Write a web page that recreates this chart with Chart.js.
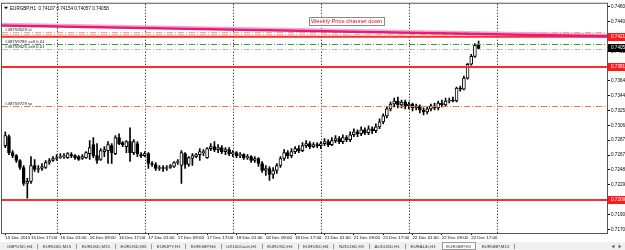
<!DOCTYPE html>
<html>
<head>
<meta charset="utf-8">
<script src="https://cdn.jsdelivr.net/npm/chart.js@4.4.0/dist/chart.umd.min.js"></script>
<style>
  html, body { margin: 0; padding: 0; background: #fff; }
</style>
</head>
<body>
<canvas id="chart" width="625" height="250"></canvas>
<script>
// EURGBP H1 candles, 15 Dec 10:00 -> 22 Dec 19:00
const open = [
  0.72798, 0.72914, 0.72708, 0.72669, 0.72605, 0.72515, 0.72309, 0.72335, 0.72540, 0.72489,
  0.72502, 0.72515, 0.72579, 0.72605, 0.72631, 0.72643, 0.72656, 0.72643, 0.72682, 0.72669,
  0.72656, 0.72631, 0.72643, 0.72695, 0.72811, 0.72669, 0.72618, 0.72721, 0.72734, 0.72798,
  0.72695, 0.72901, 0.72837, 0.72785, 0.72849, 0.72708, 0.72824, 0.72682, 0.72669, 0.72695,
  0.72566, 0.72553, 0.72502, 0.72515, 0.72502, 0.72515, 0.72528, 0.72579, 0.72540, 0.72695,
  0.72553, 0.72631, 0.72656, 0.72682, 0.72708, 0.72643, 0.72759, 0.72785, 0.72746, 0.72772,
  0.72721, 0.72746, 0.72695, 0.72708, 0.72669, 0.72682, 0.72643, 0.72656, 0.72605, 0.72631,
  0.72566, 0.72476, 0.72502, 0.72425, 0.72476, 0.72540, 0.72631, 0.72708, 0.72669, 0.72721,
  0.72759, 0.72734, 0.72798, 0.72824, 0.72785, 0.72811, 0.72798, 0.72824, 0.72849, 0.72811,
  0.72862, 0.72888, 0.72849, 0.72901, 0.72875, 0.72939, 0.72978, 0.72952, 0.73004, 0.72965,
  0.73017, 0.72991, 0.73042, 0.73107, 0.73184, 0.73274, 0.73338, 0.73377, 0.73326, 0.73364,
  0.73313, 0.73338, 0.73287, 0.73313, 0.73261, 0.73235, 0.73274, 0.73313, 0.73287, 0.73351,
  0.73326, 0.73377, 0.73390, 0.73377, 0.73544, 0.73531, 0.73673, 0.73853, 0.73956, 0.74107
];
const high = [
  0.72978, 0.72939, 0.72734, 0.72682, 0.72618, 0.72540, 0.72373, 0.72656, 0.72618, 0.72540,
  0.72566, 0.72605, 0.72631, 0.72656, 0.72682, 0.72695, 0.72695, 0.72708, 0.72708, 0.72682,
  0.72669, 0.72682, 0.72721, 0.72862, 0.72901, 0.72824, 0.72759, 0.72785, 0.72849, 0.72824,
  0.72927, 0.72952, 0.72849, 0.72862, 0.73030, 0.72875, 0.72849, 0.72708, 0.72721, 0.72708,
  0.72592, 0.72579, 0.72540, 0.72540, 0.72540, 0.72553, 0.72592, 0.72618, 0.72734, 0.72708,
  0.72656, 0.72695, 0.72695, 0.72759, 0.72746, 0.72772, 0.72824, 0.72849, 0.72811, 0.72798,
  0.72772, 0.72772, 0.72734, 0.72721, 0.72708, 0.72695, 0.72682, 0.72669, 0.72656, 0.72643,
  0.72592, 0.72540, 0.72528, 0.72515, 0.72566, 0.72656, 0.72746, 0.72734, 0.72759, 0.72785,
  0.72798, 0.72837, 0.72862, 0.72849, 0.72837, 0.72837, 0.72849, 0.72888, 0.72875, 0.72901,
  0.72927, 0.72914, 0.72939, 0.72927, 0.72978, 0.73017, 0.73004, 0.73042, 0.73030, 0.73055,
  0.73042, 0.73081, 0.73145, 0.73210, 0.73300, 0.73364, 0.73416, 0.73428, 0.73390, 0.73390,
  0.73364, 0.73351, 0.73338, 0.73326, 0.73287, 0.73300, 0.73338, 0.73351, 0.73377, 0.73390,
  0.73416, 0.73416, 0.73428, 0.73557, 0.73570, 0.73699, 0.73866, 0.73982, 0.74123, 0.74154
];
const low = [
  0.72772, 0.72682, 0.72643, 0.72579, 0.72489, 0.72283, 0.72116, 0.72309, 0.72463, 0.72450,
  0.72476, 0.72502, 0.72553, 0.72592, 0.72605, 0.72631, 0.72631, 0.72631, 0.72643, 0.72618,
  0.72605, 0.72618, 0.72631, 0.72618, 0.72643, 0.72566, 0.72605, 0.72656, 0.72566, 0.72566,
  0.72682, 0.72811, 0.72785, 0.72708, 0.72592, 0.72682, 0.72656, 0.72643, 0.72656, 0.72502,
  0.72528, 0.72476, 0.72476, 0.72463, 0.72476, 0.72502, 0.72515, 0.72553, 0.72309, 0.72502,
  0.72528, 0.72540, 0.72643, 0.72605, 0.72669, 0.72631, 0.72734, 0.72721, 0.72708, 0.72695,
  0.72682, 0.72669, 0.72656, 0.72643, 0.72643, 0.72618, 0.72618, 0.72579, 0.72579, 0.72528,
  0.72450, 0.72412, 0.72347, 0.72373, 0.72438, 0.72515, 0.72605, 0.72631, 0.72643, 0.72695,
  0.72708, 0.72721, 0.72772, 0.72759, 0.72772, 0.72772, 0.72759, 0.72798, 0.72785, 0.72798,
  0.72837, 0.72824, 0.72824, 0.72849, 0.72849, 0.72914, 0.72914, 0.72927, 0.72939, 0.72939,
  0.72952, 0.72965, 0.73017, 0.73081, 0.73158, 0.73248, 0.73300, 0.73287, 0.73287, 0.73274,
  0.73274, 0.73248, 0.73261, 0.73223, 0.73197, 0.73210, 0.73248, 0.73261, 0.73261, 0.73300,
  0.73313, 0.73351, 0.73364, 0.73364, 0.73506, 0.73519, 0.73660, 0.73840, 0.73943, 0.74057
];
const close = [
  0.72927, 0.72708, 0.72669, 0.72605, 0.72515, 0.72309, 0.72335, 0.72540, 0.72489, 0.72502,
  0.72528, 0.72579, 0.72605, 0.72631, 0.72643, 0.72656, 0.72669, 0.72695, 0.72669, 0.72643,
  0.72618, 0.72656, 0.72708, 0.72772, 0.72669, 0.72605, 0.72734, 0.72746, 0.72811, 0.72708,
  0.72901, 0.72824, 0.72811, 0.72849, 0.72708, 0.72849, 0.72695, 0.72669, 0.72695, 0.72566,
  0.72553, 0.72502, 0.72515, 0.72502, 0.72515, 0.72540, 0.72579, 0.72592, 0.72708, 0.72553,
  0.72643, 0.72669, 0.72682, 0.72721, 0.72721, 0.72759, 0.72785, 0.72746, 0.72772, 0.72721,
  0.72746, 0.72695, 0.72708, 0.72669, 0.72682, 0.72643, 0.72656, 0.72605, 0.72631, 0.72566,
  0.72476, 0.72502, 0.72425, 0.72476, 0.72540, 0.72631, 0.72708, 0.72669, 0.72721, 0.72759,
  0.72734, 0.72798, 0.72824, 0.72785, 0.72811, 0.72798, 0.72824, 0.72849, 0.72811, 0.72862,
  0.72888, 0.72849, 0.72901, 0.72875, 0.72939, 0.72978, 0.72952, 0.73004, 0.72965, 0.73017,
  0.72991, 0.73042, 0.73107, 0.73184, 0.73274, 0.73338, 0.73377, 0.73326, 0.73364, 0.73313,
  0.73338, 0.73287, 0.73313, 0.73261, 0.73235, 0.73274, 0.73313, 0.73287, 0.73351, 0.73326,
  0.73377, 0.73390, 0.73377, 0.73544, 0.73531, 0.73673, 0.73853, 0.73956, 0.74100, 0.74058
];

// trading days on the chart and their first visible hour
const days = ['15 Dec', '16 Dec', '17 Dec', '18 Dec', '21 Dec', '22 Dec', '23 Dec'];
const firstHour = [10, 0, 0, 0, 0, 0, 0];

const xTickPos = [0, 7, 15, 23, 31, 39, 47, 55, 63, 71, 79, 87, 95, 103, 111, 119, 127];
const xTickLabels = ['15 Dec 2015', '15 Dec 17:00', '16 Dec 01:00', '16 Dec 09:00', '16 Dec 17:00',
  '17 Dec 01:00', '17 Dec 09:00', '17 Dec 17:00', '18 Dec 01:00', '18 Dec 09:00', '18 Dec 17:00',
  '21 Dec 01:00', '21 Dec 09:00', '21 Dec 17:00', '22 Dec 01:00', '22 Dec 09:00', '22 Dec 17:00'];

const yTicks = [0.74600, 0.74405, 0.74210, 0.74015, 0.73825, 0.73640, 0.73445, 0.73250,
  0.73060, 0.72870, 0.72675, 0.72485, 0.72290, 0.72095, 0.71900, 0.71705];

// objects on the chart
const redLevels = [0.74210, 0.73817, 0.72094];
const orderLevels = [0.74275, 0.74240, 0.74111, 0.74047, 0.73313];
const orderTexts = ['#48759529 sl', '', '#48759785 sell 0.01', '#48759525 sell 0.01', '#48759729 tp'];
const channelIdx = [-0.9, 164];
const channelPrice = [0.74362, 0.74222];
const channelText = 'Weekly Price channel down';
const channelTextAt = [93, 0.74420];

const tabs = ['GBPUSD,H4', 'EURUSD,M15', 'EURUSD,M15', 'EURUSD,M5', 'EURJPY,H1', 'EURGBP,H4',
  'UK100Cash,H1', 'EURUSD,H4', 'EURUSD,H4', 'NZDUSD,H1', 'AUDUSD,H1', 'EURAUD,H1', 'EURGBP,H1', 'EURGBP,M15'];
const activeTab = 12;

const FONT = '"Liberation Sans", Arial, sans-serif';

let dayStart = [];
let idx = 0;
days.forEach((d, k) => {
    dayStart.push(idx);
    idx += 24 - firstHour[k];
});

const bodyData = close.map((c, i) => ({ x: i, y: [open[i], c] }));
const wickData = close.map((c, i) => ({ x: i, y: [low[i], high[i]] }));
const bodyColors = close.map((c, i) => c >= open[i] ? '#ffffff' : '#000000');

const orderStyles = [
    { color: '#f4a47e', dash: [6, 2, 1, 2] },
    { color: '#f6b592', dash: [6, 2, 1, 2] },
    { color: '#3f9a3f', dash: [6, 2, 1, 2] },
    { color: '#9fcf9f', dash: [6, 2, 1, 2] },
    { color: '#ec7440', dash: [6, 2, 1, 2] },
];

const priceBox = (ctx, area, yPix, text, bg) => {
    ctx.fillStyle = bg;
    ctx.fillRect(area.right + 1, Math.round(yPix) - 4, 625 - area.right, 8);
    ctx.fillStyle = '#fff';
    ctx.font = `4.6px ${FONT}`;
    ctx.textAlign = 'left';
    ctx.textBaseline = 'middle';
    ctx.fillText(text, area.right + 4, Math.round(yPix));
};

const overlay = {
    id: 'overlay',
    beforeDatasetsDraw(chart) {
        const { ctx, chartArea: a, scales: { x } } = chart;
        ctx.save();
        ctx.strokeStyle = '#000';
        ctx.lineWidth = 1;
        ctx.setLineDash([1, 2]);
        dayStart.slice(1).forEach(i => {
            const px = Math.round(x.getPixelForValue(i)) + 0.5;
            ctx.beginPath();
            ctx.moveTo(px, a.top);
            ctx.lineTo(px, a.bottom);
            ctx.stroke();
        });
        ctx.restore();
    },
    afterDatasetsDraw(chart) {
        const { ctx, chartArea: a, scales: { x, y } } = chart;
        ctx.save();
        ctx.beginPath();
        ctx.rect(a.left, a.top, a.right - a.left, a.bottom - a.top);
        ctx.clip();

        // order lines
        orderLevels.forEach((p, k) => {
            const py = Math.round(y.getPixelForValue(p)) + 0.5;
            ctx.strokeStyle = orderStyles[k].color;
            ctx.lineWidth = 1;
            ctx.setLineDash(orderStyles[k].dash);
            ctx.beginPath();
            ctx.moveTo(a.left, py);
            ctx.lineTo(a.right, py);
            ctx.stroke();
            if (orderTexts[k]) {
                ctx.fillStyle = '#222';
                ctx.font = `4.4px ${FONT}`;
                ctx.textAlign = 'left';
                ctx.textBaseline = 'alphabetic';
                ctx.fillText(orderTexts[k], a.left + 3, py - 1.5);
            }
        });
        ctx.setLineDash([]);

        // support / resistance
        redLevels.forEach(p => {
            const py = y.getPixelForValue(p);
            ctx.strokeStyle = '#ff2b2b';
            ctx.lineWidth = 2;
            ctx.beginPath();
            ctx.moveTo(a.left, py);
            ctx.lineTo(a.right, py);
            ctx.stroke();
        });

        // weekly channel line
        const x0 = x.getPixelForValue(channelIdx[0]), x1 = x.getPixelForValue(channelIdx[1]);
        const y0 = y.getPixelForValue(channelPrice[0]), y1 = y.getPixelForValue(channelPrice[1]);
        ctx.strokeStyle = '#f7a6cb';
        ctx.lineWidth = 1.5;
        ctx.beginPath();
        ctx.moveTo(x0, y0 - 1.5);
        ctx.lineTo(x1, y1 - 1.5);
        ctx.stroke();
        ctx.strokeStyle = '#e8187c';
        ctx.lineWidth = 2.5;
        ctx.beginPath();
        ctx.moveTo(x0, y0 + 0.5);
        ctx.lineTo(x1, y1 + 0.5);
        ctx.stroke();

        // channel label
        ctx.font = `5.8px ${FONT}`;
        ctx.textAlign = 'center';
        ctx.textBaseline = 'middle';
        const tx = x.getPixelForValue(channelTextAt[0]);
        const ty = y.getPixelForValue(channelTextAt[1]);
        const tw = ctx.measureText(channelText).width;
        ctx.fillStyle = '#fff';
        ctx.fillRect(tx - tw / 2 - 2, ty - 4, tw + 4, 8);
        ctx.strokeStyle = '#8a8a8a';
        ctx.lineWidth = 1;
        ctx.strokeRect(Math.round(tx - tw / 2 - 2) + 0.5, Math.round(ty - 4) + 0.5, Math.round(tw + 4), 8);
        ctx.fillStyle = '#e01010';
        ctx.fillText(channelText, tx, ty + 0.5);
        ctx.restore();
    },
    afterDraw(chart) {
        const { ctx, chartArea: a, scales: { y } } = chart;
        ctx.save();

        // frame
        ctx.strokeStyle = '#555';
        ctx.lineWidth = 1;
        ctx.strokeRect(a.left - 0.5, a.top - 0.5, a.right - a.left + 1, a.bottom - a.top + 1);

        // price labels on the axis
        redLevels.forEach(p => priceBox(ctx, a, y.getPixelForValue(p), p.toFixed(5), '#ff1a1a'));
        const last = close[close.length - 1];
        priceBox(ctx, a, y.getPixelForValue(last), last.toFixed(5), '#000');

        // symbol header
        ctx.fillStyle = '#000';
        ctx.beginPath();
        ctx.moveTo(a.left + 2, a.top + 3);
        ctx.lineTo(a.left + 6, a.top + 3);
        ctx.lineTo(a.left + 4, a.top + 5.5);
        ctx.closePath();
        ctx.fill();
        ctx.font = `4.6px ${FONT}`;
        ctx.textAlign = 'left';
        ctx.textBaseline = 'middle';
        ctx.fillText('EURGBP,H1  ' + [open, high, low, close].map(s => s[s.length - 1].toFixed(5)).join(' '),
            a.left + 8, a.top + 4.5);

        // symbol tabs
        ctx.fillStyle = '#f0f0f0';
        ctx.fillRect(0, 242, 625, 8);
        ctx.font = `4.4px ${FONT}`;
        let tx = 7;
        tabs.forEach((t, k) => {
            const w = ctx.measureText(t).width;
            if (k === activeTab) {
                ctx.fillStyle = '#fff';
                ctx.fillRect(tx - 4, 242, w + 8, 8);
                ctx.strokeStyle = '#999';
                ctx.strokeRect(Math.round(tx - 4) + 0.5, 242.5, Math.round(w + 8), 7);
            }
            ctx.fillStyle = '#333';
            ctx.fillText(t, tx, 246.5);
            tx += w + 5;
            if (k !== activeTab && k !== activeTab - 1) {
                ctx.fillStyle = '#999';
                ctx.fillRect(Math.round(tx), 244, 1, 5);
            }
            tx += 5.5;
        });
        ctx.fillStyle = '#666';
        [[613, -1], [620, 1]].forEach(([ax, d]) => {
            ctx.beginPath();
            ctx.moveTo(ax - d * 1.5, 244.5);
            ctx.lineTo(ax + d * 1.5, 246.5);
            ctx.lineTo(ax - d * 1.5, 248.5);
            ctx.closePath();
            ctx.fill();
        });
        ctx.restore();
    }
};

new Chart(document.getElementById('chart'), {
    type: 'bar',
    data: {
        datasets: [
            {
                data: bodyData,
                backgroundColor: bodyColors,
                borderColor: '#000',
                borderWidth: 1,
                borderSkipped: false,
                barThickness: 3,
                minBarLength: 1,
                grouped: false,
            },
            {
                data: wickData,
                backgroundColor: '#000',
                barThickness: 1,
                grouped: false,
            },
        ]
    },
    plugins: [overlay],
    options: {
        responsive: false,
        animation: false,
        layout: { padding: { left: 2, top: 2, right: 0, bottom: 8 } },
        plugins: {
            legend: { display: false },
            tooltip: { enabled: false }
        },
        scales: {
            x: {
                type: 'linear',
                min: -0.9,
                max: 164,
                offset: false,
                grid: { drawOnChartArea: false, tickLength: 2, color: '#000', offset: false },
                border: { color: '#000' },
                ticks: {
                    autoSkip: false,
                    maxRotation: 0,
                    align: 'start',
                    padding: 0,
                    color: '#000',
                    font: { family: FONT, size: 4.4 },
                    callback: (v) => xTickLabels[xTickPos.indexOf(v)]
                },
                afterBuildTicks: (s) => { s.ticks = xTickPos.map(v => ({ value: v })); },
                afterFit: (s) => { s.height = 9; }
            },
            y: {
                type: 'linear',
                position: 'right',
                min: 0.71665,
                max: 0.74638,
                grid: { drawOnChartArea: false, tickLength: 3, color: '#000' },
                border: { color: '#000' },
                ticks: {
                    padding: 1,
                    color: '#000',
                    font: { family: FONT, size: 4.6 },
                    callback: (v) => v.toFixed(5)
                },
                afterBuildTicks: (s) => { s.ticks = yTicks.map(v => ({ value: v })); },
                afterFit: (s) => { s.width = 18; }
            }
        }
    }
});
</script>
</body>
</html>
